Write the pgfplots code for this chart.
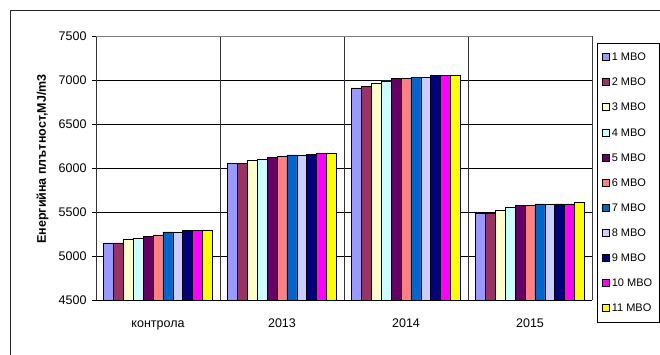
\documentclass[border=0pt]{standalone}
\usepackage{fontspec}
\setmainfont{Liberation Sans}
\usepackage{pgfplots}
\pgfplotsset{compat=1.18}
\definecolor{c1}{HTML}{9999FF}
\definecolor{c2}{HTML}{993366}
\definecolor{c3}{HTML}{FFFFCC}
\definecolor{c4}{HTML}{CCFFFF}
\definecolor{c5}{HTML}{660066}
\definecolor{c6}{HTML}{FF8080}
\definecolor{c7}{HTML}{0066CC}
\definecolor{c8}{HTML}{CCCCFF}
\definecolor{c9}{HTML}{000080}
\definecolor{c10}{HTML}{FF00FF}
\definecolor{c11}{HTML}{FFFF00}
\begin{document}
\begin{tikzpicture}
\useasboundingbox (0pt,0pt) rectangle (660pt,354pt);
\fill[white] (0pt,0pt) rectangle (660pt,354pt);
\draw[black!85, line width=0.8pt] (10pt,-5pt) -- (10pt,344pt) -- (665pt,344pt);
\begin{axis}[
  at={(96pt,54pt)}, anchor=south west,
  scale only axis, width=496pt, height=264pt,
  ybar=0pt, bar width=9.9pt,
  xmin=-0.5, xmax=3.5, ymin=4500, ymax=7500,
  axis lines*=left,
  axis line style={black, line width=0.7pt},
  xtick={0,1,2,3},
  xticklabels={контрола,2013,2014,2015},
  major x tick style={draw=none},
  extra x ticks={-0.5,0.5,1.5,2.5,3.5},
  extra x tick labels={},
  extra x tick style={grid=major, major grid style={black!80, line width=0.6pt}, major tick style={draw=black, line width=0.6pt}, major tick length=4pt},
  ytick={4500,5000,5500,6000,6500,7000,7500},
  yticklabels={4500,5000,5500,6000,6500,7000,7500},
  ymajorgrids,
  major grid style={black, line width=0.6pt},
  tick align=outside,
  major tick length=4pt,
  y tick style={black, line width=0.6pt},
  tick label style={font=\fontsize{12.5}{14}\selectfont},
  yticklabel style={xshift=-2pt},
  xticklabel style={anchor=base, yshift=-23.5pt},
  ylabel={Енергийна плътност,MJ/m3},
  ylabel style={at={(axis description cs:-0.1079,0.534)}, anchor=center, font=\bfseries\fontsize{12.5}{14}\selectfont},
  legend cell align=left,
  legend image code/.code={\draw[#1, draw=black, line width=0.6pt] (0pt,-3.5pt) rectangle (7pt,3.5pt);},
  legend style={at={(axis description cs:1.0101,0.9735)}, anchor=north west,
    draw=black, font=\fontsize{11}{12}\selectfont,
    inner xsep=5pt, inner ysep=10pt, row sep=17.5pt,
    nodes={inner xsep=2pt, inner ysep=0pt, text height=7.5pt, text depth=0pt}},
  every axis plot/.append style={draw=black, line width=0.6pt},
]
\addplot[fill=c1] coordinates {(0,5150) (1,6050) (2,6910) (3,5485)};
\addplot[fill=c2] coordinates {(0,5150) (1,6050) (2,6930) (3,5485)};
\addplot[fill=c3] coordinates {(0,5185) (1,6090) (2,6960) (3,5520)};
\addplot[fill=c4] coordinates {(0,5200) (1,6100) (2,6990) (3,5555)};
\addplot[fill=c5] coordinates {(0,5220) (1,6120) (2,7015) (3,5578)};
\addplot[fill=c6] coordinates {(0,5240) (1,6135) (2,7015) (3,5578)};
\addplot[fill=c7] coordinates {(0,5275) (1,6150) (2,7033) (3,5592)};
\addplot[fill=c8] coordinates {(0,5275) (1,6150) (2,7033) (3,5592)};
\addplot[fill=c9] coordinates {(0,5292) (1,6152) (2,7050) (3,5592)};
\addplot[fill=c10] coordinates {(0,5292) (1,6168) (2,7050) (3,5592)};
\addplot[fill=c11] coordinates {(0,5292) (1,6170) (2,7050) (3,5607)};
\legend{1 MBO,2 MBO,3 MBO,4 MBO,5 MBO,6 MBO,7 MBO,8 MBO,9 MBO,10 MBO,11 MBO}
\draw[black!50, line width=0.8pt] (rel axis cs:0,1) -- (rel axis cs:1,1) -- (rel axis cs:1,0);
\end{axis}
\end{tikzpicture}
\end{document}
